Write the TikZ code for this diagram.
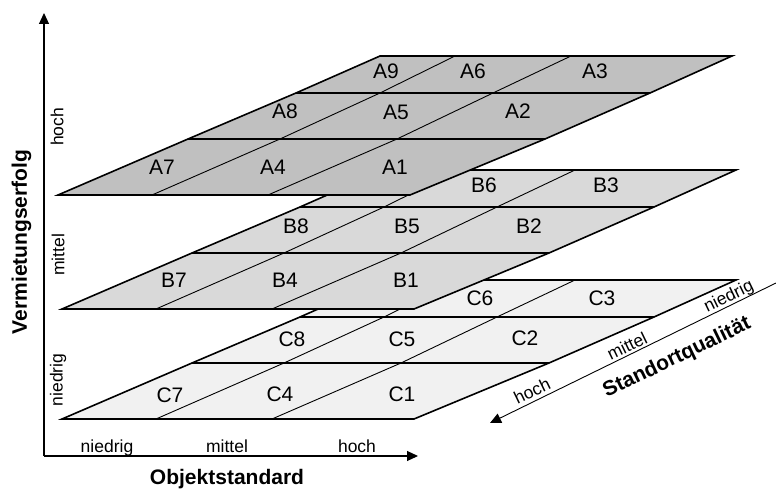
\documentclass[tikz,border=0pt]{standalone}
\usepackage{fontspec}
\setmainfont{Liberation Sans}
\usetikzlibrary{arrows.meta}
\definecolor{layA}{RGB}{192,192,192}
\definecolor{layB}{RGB}{217,217,217}
\definecolor{layC}{RGB}{241,241,241}
\newcommand\mylayergrid[1]{%
  \fill[#1] (58,195) -- (188,139) -- (296,93) -- (380,56) -- (732,56) -- (650,93) -- (545,139) -- (410,195) -- cycle;
  \draw[gridh] (188,139) -- (545,139);
  \draw[gridh] (296,93) -- (650,93);
  \draw[grids] (152,195) -- (280,139) -- (380,93) -- (455,56);
  \draw[grids] (268,195) -- (397,139) -- (493,93) -- (571,56);
  \draw[layeredge] (58,195) -- (188,139) -- (296,93) -- (380,56) -- (732,56) -- (650,93) -- (545,139) -- (410,195) -- cycle;
}
\begin{document}
\begin{tikzpicture}[x=1pt,y=-1pt,
  layeredge/.style={line width=1.6pt,line join=miter},
  gridh/.style={line width=1.3pt},
  grids/.style={line width=0.9pt},
  axisline/.style={line width=1.1pt,-{Triangle[length=11pt,width=10pt]}},
  cell/.style={inner sep=0pt,font=\fontsize{21}{25}\selectfont},
  small/.style={inner sep=0pt,font=\fontsize{17.5}{21}\selectfont},
  big/.style={inner sep=0pt,font=\fontsize{21}{25}\selectfont\bfseries}]
\useasboundingbox (0,0) rectangle (776,489);
% layers
\begin{scope}[shift={(4,224)}]\mylayergrid{layC}\end{scope}
\begin{scope}[shift={(4,114)}]\mylayergrid{layB}\end{scope}
\begin{scope}\mylayergrid{layA}\end{scope}
% cell labels
\node[cell] (A9) at (386,71) {A9};
\node[cell] (A6) at (473,71) {A6};
\node[cell] (A3) at (595,71) {A3};
\node[cell] (A8) at (285,111) {A8};
\node[cell] (A5) at (396,112) {A5};
\node[cell] (A2) at (518,111) {A2};
\node[cell] (A7) at (162,167) {A7};
\node[cell] (A4) at (273,167) {A4};
\node[cell] (A1) at (395,167) {A1};
\node[cell] (B6) at (484,185) {B6};
\node[cell] (B3) at (606,185) {B3};
\node[cell] (B8) at (296,226) {B8};
\node[cell] (B5) at (407,226) {B5};
\node[cell] (B2) at (529,226) {B2};
\node[cell] (B7) at (174,280) {B7};
\node[cell] (B4) at (285,280) {B4};
\node[cell] (B1) at (406,280) {B1};
\node[cell] (C6) at (480,298) {C6};
\node[cell] (C3) at (602,298) {C3};
\node[cell] (C8) at (292,339) {C8};
\node[cell] (C5) at (402,339) {C5};
\node[cell] (C2) at (525,338) {C2};
\node[cell] (C7) at (170,395) {C7};
\node[cell] (C4) at (280,394) {C4};
\node[cell] (C1) at (402,394) {C1};
% axes
\coordinate (O) at (44,456);
\coordinate (ytip) at (44,13);
\coordinate (xtip) at (418,456);
\coordinate (sqstart) at (776,283);
\coordinate (sqtip) at (490,423);
\draw[axisline] (O) -- (ytip);
\draw[axisline] (O) -- (xtip);
\draw[axisline,line width=0.9pt] (sqstart) -- (sqtip);
% axis labels
\node[small,rotate=90] (vh) at (57,127) {hoch};
\node[small,rotate=90] (vm) at (58,255) {mittel};
\node[small,rotate=90] (vn) at (58,380) {niedrig};
\node[big,rotate=90] (vt) at (21.5,242) {Vermietungserfolg};
\node[small,anchor=base] (xn) at (107,452) {niedrig};
\node[small,anchor=base] (xm) at (227,452) {mittel};
\node[small,anchor=base] (xh) at (357,452) {hoch};
\node[big,anchor=base] (xt) at (227,484) {Objektstandard};
\node[small,rotate=25.8] (sh) at (532,391) {hoch};
\node[small,rotate=25.8] (sm) at (627,346) {mittel};
\node[small,rotate=25.8] (sn) at (729,297) {niedrig};
\node[big,rotate=25.8] (st) at (677,358) {Standortqualität};
\end{tikzpicture}
\end{document}
